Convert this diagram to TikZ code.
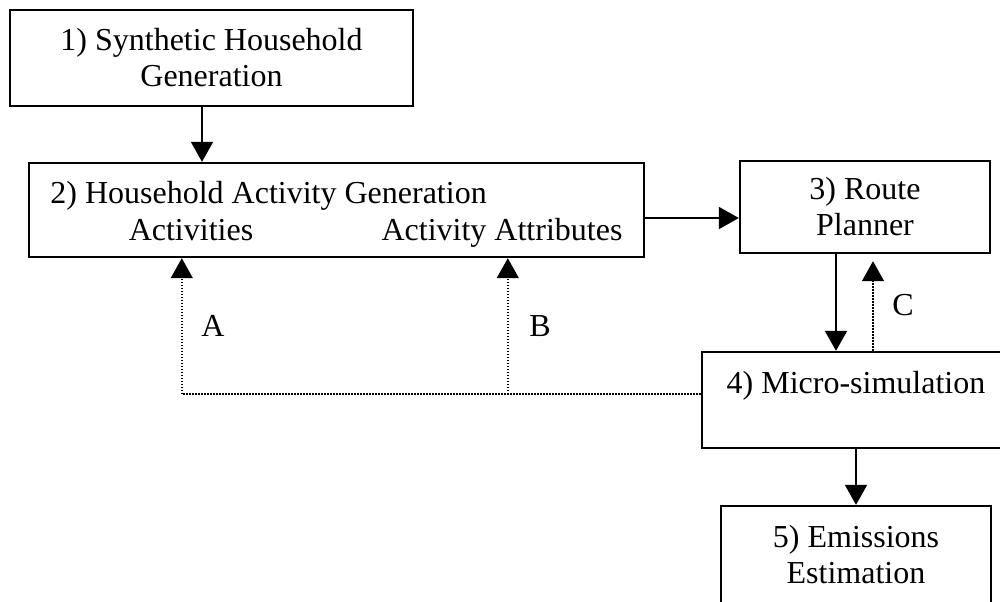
\documentclass[tikz,border=0pt]{standalone}
\usepackage{fontspec}
\setmainfont{Liberation Serif}
\usepackage{tikz}
\usetikzlibrary{arrows.meta,calc}

\begin{document}
\begin{tikzpicture}[x=0.5pt,y=-0.5pt,
    font=\fontsize{16}{18}\selectfont,
    box/.style={draw,line width=1.2pt,rectangle,align=center,inner sep=0pt},
    arr/.style={line width=1pt,-{Triangle[length=10pt,width=11pt]}},
    fb/.style={line width=0.7pt,dash pattern=on 0.75pt off 0.75pt,-{Triangle[length=10pt,width=11pt]}}]
    \useasboundingbox (0,0) rectangle (1000,601);

    % boxes
    \node[box,minimum width=201.5pt,minimum height=48pt] (synth) at (211.5,58)
      {1) Synthetic Household\\Generation};
    \node[box,minimum width=307.5pt,minimum height=47pt] (actgen) at (336.5,210) {};
    \node[box,minimum width=125pt,minimum height=46pt] (route) at (865,207)
      {3) Route\\Planner};
    \node[box,minimum width=154pt,minimum height=48pt] (micro) at (856,400)
      {4) Micro-simulation\\\mbox{}};
    \node[box,minimum width=135pt,minimum height=66pt] (emis) at (856,572)
      {5) Emissions\\Estimation\\\mbox{}};

    % texts in box 2
    \node[anchor=base west,inner sep=0pt] (actgentitle) at (50,203)
      {2) Household Activity Generation};
    \node[anchor=base,inner sep=0pt] (acts) at (191,240) {Activities};
    \node[anchor=base,inner sep=0pt] (attrs) at (502,240) {Activity Attributes};

    % main flow
    \draw[arr] ([xshift=-4.75pt]synth.south) -- ([xshift=-4.75pt]synth.south |- actgen.north);
    \draw[arr] ([yshift=-4pt]actgen.east) -- ([yshift=-4pt]actgen.east -| route.west);
    \draw[arr] ([xshift=-14.5pt]route.south) -- ([xshift=-14.5pt]route.south |- micro.north);
    \draw[arr] (micro.south) -- (emis.north);

    % feedback
    \coordinate (tipA) at ([xshift=77pt]actgen.south west);
    \coordinate (tipB) at ([xshift=240pt]actgen.south west);
    \coordinate (fbjoin) at ([yshift=3pt]micro.west);
    \draw[fb] (fbjoin) -| (tipA);
    \draw[fb] (fbjoin -| tipB) -- (tipB);
    \draw[fb] ([xshift=4pt]route.south |- micro.north) -- ([xshift=4pt,yshift=-3.5pt]route.south);

    \node (labA) at (213,326) {A};
    \node (labB) at (540,326) {B};
    \node (labC) at (903,305) {C};
  \end{tikzpicture}
\end{document}
